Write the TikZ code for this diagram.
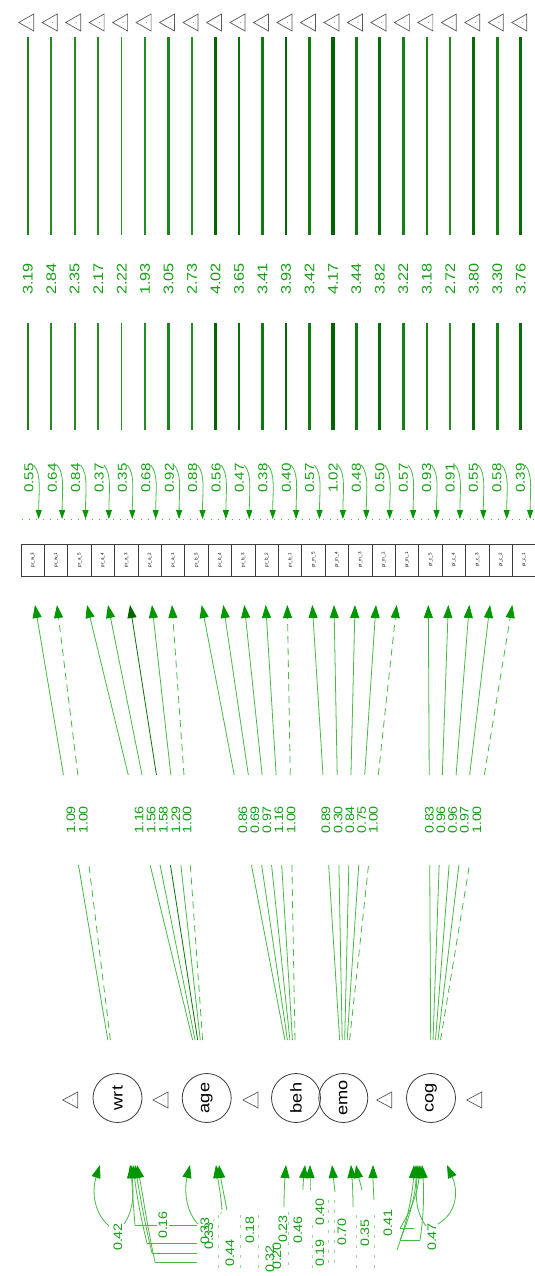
\documentclass[tikz,border=0pt]{standalone}
\usepackage{fontspec}
\usepackage{graphicx}
\setmainfont{Liberation Sans}
\usetikzlibrary{arrows.meta,calc}
\definecolor{dgreen}{RGB}{0,100,0}
\definecolor{lgreen}{RGB}{70,185,70}
\definecolor{agreen}{RGB}{0,150,0}
\definecolor{tgreen}{RGB}{20,160,20}
\definecolor{boxgray}{RGB}{60,60,60}
\newcommand\lab[2]{\fontsize{#1}{#1}\selectfont\scalebox{1.3}[1.12]{#2}}
\def\isdash{d}
\def\isdark{k}
\tikzset{
  lbl/.style={text=tgreen, rotate=90, inner sep=0pt},
  mbox/.style={draw=boxgray, line width=0.7pt, minimum width=23.4pt, minimum height=32pt, inner sep=0pt},
  latent/.style={circle, draw=boxgray, line width=0.8pt, minimum size=49pt, inner sep=0pt},
  tri/.style={draw=gray!70!black, line width=0.7pt},
  loadl/.style={draw=lgreen, line width=0.8pt},
  fixd/.style={dash pattern=on 7pt off 5pt},
  tipA/.style={-{Triangle[length=13pt,width=9pt,color=agreen]}},
  tipR/.style={-{Triangle[length=9pt,width=6pt,color=agreen]}},
  cv/.style={draw=lgreen, line width=0.8pt},
  faint/.style={draw=lgreen!55, line width=0.7pt, dash pattern=on 3pt off 7pt},
}
\begin{document}
\begin{tikzpicture}[x=1pt,y=-1pt]
\useasboundingbox[fill=white] (0,0) rectangle (535,1276);
% latent variables
\node[latent] (wrt) at (117.5,1098) {\rotatebox{90}{\lab{14}{wrt}}};
\node[latent] (age) at (206.7,1098) {\rotatebox{90}{\lab{14}{age}}};
\node[latent] (beh) at (296,1098) {\rotatebox{90}{\lab{14}{beh}}};
\node[latent] (emo) at (343.3,1098) {\rotatebox{90}{\lab{14}{emo}}};
\node[latent] (cog) at (431,1098) {\rotatebox{90}{\lab{14}{cog}}};
% latent mean triangles
\foreach \tx in {62.7,153,243,376.7,466.7}{
  \draw[tri] (\tx,1100) -- (\tx+15,1092) -- (\tx+15,1108) -- cycle;
  \fill[gray] (\tx+10,1100) circle (0.5pt);
}
% manifest variables
\foreach \k/\g/\n/\mn/\rv/\tp/\lt/\ld/\st in {
 0/w/3/3.19/0.55/35/wrt/1.09/s,
 1/w/1/2.84/0.64/57/wrt/1.00/d,
 2/a/5/2.35/0.84/87/age/1.16/s,
 3/a/4/2.17/0.37/108/age/1.56/s,
 4/a/3/2.22/0.35/130/age/1.58/k,
 5/a/2/1.93/0.68/152/age/1.29/s,
 6/a/1/3.05/0.92/172/age/1.00/d,
 7/b/5/2.73/0.88/201.7/beh/0.86/s,
 8/b/4/4.02/0.56/223.3/beh/0.69/s,
 9/b/3/3.65/0.47/244.3/beh/0.97/s,
 10/b/2/3.41/0.38/265.7/beh/1.16/s,
 11/b/1/3.93/0.40/287.3/beh/1.00/d,
 12/m/5/3.42/0.57/312.3/emo/0.89/s,
 13/m/4/4.17/1.02/334/emo/0.30/s,
 14/m/3/3.44/0.48/355/emo/0.84/s,
 15/m/2/3.82/0.50/376/emo/0.75/s,
 16/m/1/3.22/0.57/396.7/emo/1.00/d,
 17/c/5/3.18/0.93/428.3/cog/0.83/s,
 18/c/4/2.72/0.91/448.3/cog/0.96/s,
 19/c/3/3.80/0.55/469.3/cog/0.96/s,
 20/c/2/3.30/0.58/490/cog/0.97/s,
 21/c/1/3.76/0.39/512.3/cog/1.00/d}{
  \pgfmathsetmacro\bx{32.7+23.4*\k}
  \pgfmathsetmacro\mx{27.7+23.48*\k}
  \pgfmathsetmacro\lw{0.8*\mn-0.2}
  \pgfmathsetmacro\shade{int(min(100,max(50,100*(\mn-1.6)/2.4)))}
  \node[mbox] (v\k) at (\bx,560) {\rotatebox{90}{\fontsize{4.5}{5}\selectfont pr\_\g\_\n}};
  % mean triangle and path
  \coordinate (mt\k) at (\mx,22.5);
  \draw[tri] ($(mt\k)+(-9,0)$) -- ++(15,-8.5) -- ++(0,17) -- cycle;
  \fill[gray] ($(mt\k)+(1.5,0)$) circle (0.5pt);
  \coordinate (ma\k) at (\mx,37);
  \coordinate (mb\k) at (\mx,235);
  \coordinate (mc\k) at (\mx,323);
  \coordinate (md\k) at (\mx,430);
  \draw[line width=\lw pt, draw=dgreen!\shade!lgreen] (ma\k) -- (mb\k);
  \draw[line width=\lw pt, draw=dgreen!\shade!lgreen] (mc\k) -- (md\k);
  \node[lbl] (ml\k) at (\mx,279) {\lab{12.5}{\mn}};
  % residual variance
  \node[lbl] (rl\k) at (\bx-3.8,478) {\lab{11.6}{\rv}};
  \draw[draw=lgreen, line width=0.8pt, tipR] (\bx+1,465) .. controls (\bx+9,474) and (\bx+6,492) .. (\bx+6,519);
  % loading
  \coordinate (tip\k) at (\tp,605);
  \ifx\st\isdash
    \draw[loadl, fixd] ($(\lt)!0.1176!(tip\k)$) -- ($(\lt)!0.4726!(tip\k)$);
    \draw[loadl, fixd, tipA] ($(\lt)!0.6552!(tip\k)$) -- (tip\k);
  \else\ifx\st\isdark
    \draw[loadl, draw=dgreen!85!lgreen] ($(\lt)!0.1176!(tip\k)$) -- ($(\lt)!0.4726!(tip\k)$);
    \draw[loadl, draw=dgreen!85!lgreen, -{Triangle[length=13pt,width=9pt,color=dgreen]}] ($(\lt)!0.6552!(tip\k)$) -- (tip\k);
  \else
    \draw[loadl] ($(\lt)!0.1176!(tip\k)$) -- ($(\lt)!0.4726!(tip\k)$);
    \draw[loadl, tipA] ($(\lt)!0.6552!(tip\k)$) -- (tip\k);
  \fi\fi
  \node[lbl] (ll\k) at ($(\lt)!0.5639!(tip\k)$) {\lab{11}{\ld}};
}
\draw[draw=lgreen, line width=0.9pt, dash pattern=on 1pt off 6pt] (22,519) -- (535,519);
% ---- latent variances and covariances ----
% wrt variance
\node[lbl] (vw) at (118,1237) {\lab{11}{0.42}};
\draw[cv, tipA] (109,1226) .. controls (93,1212) and (92,1190) .. (100,1165);
\draw[cv, tipA] (124,1224) .. controls (134,1210) and (134,1190) .. (130,1165);
% cog variance
\node[lbl] (vc) at (432,1237) {\lab{11}{0.47}};
\draw[cv, tipA] (438,1224) .. controls (458,1212) and (458,1190) .. (447,1165);
\draw[cv, tipA] (426,1226) .. controls (414,1210) and (416,1190) .. (418,1165);
% age variance
\node[lbl] (va) at (205,1231) {\lab{11}{0.33}};
\draw[cv, tipA] (198,1224) .. controls (186,1212) and (184,1190) .. (190,1165);
\draw[cv, tipA] (222,1210) .. controls (221,1195) and (218,1180) .. (216,1165);
\draw[faint] (222,1212) -- (212,1222);
% beh variance
\node[lbl] (vb) at (298,1230) {\lab{11}{0.46}};
\draw[cv, tipA] (284,1207) .. controls (284,1190) and (285,1178) .. (286,1165);
\draw[cv, tipA] (303,1190) .. controls (303,1182) and (304,1175) .. (305,1165);
\draw[faint] (288,1212) -- (288,1270);
% emo variance
\node[lbl] (ve) at (342,1232) {\lab{11}{0.70}};
\draw[cv, tipA] (335,1192) .. controls (334,1182) and (333,1175) .. (332,1165);
\draw[cv, tipA] (353,1207) .. controls (353,1190) and (352,1178) .. (351,1165);
\draw[faint] (334,1200) -- (334,1270);
% wrt covariances
\node[lbl] (c1) at (163,1225) {\lab{11}{0.16}};
\node[lbl] (c2) at (209,1236) {\lab{11}{0.33}};
\node[lbl] (c3) at (230,1253) {\lab{11}{0.44}};
\node[lbl] (c4) at (270,1259) {\lab{11}{0.32}};
\draw[cv, tipA] (135,1225) .. controls (133,1200) and (132,1185) .. (131,1165);
\draw[cv] (135,1225) -- (157,1225);
\draw[cv] (169,1225) -- (197,1225);
\draw[cv, tipA] (147,1243) .. controls (140,1215) and (136,1190) .. (133,1165);
\draw[cv] (147,1243) -- (197,1243);
\draw[cv, tipA] (152,1253) .. controls (144,1220) and (139,1190) .. (135,1165);
\draw[cv] (152,1253) -- (197,1253);
\draw[cv, tipA] (155,1262) .. controls (147,1225) and (142,1190) .. (137,1165);
\draw[cv] (155,1262) -- (197,1262);
\draw[faint] (218,1215) -- (218,1270);
\draw[faint] (240,1215) -- (240,1270);
% age covariances
\node[lbl] (c5) at (250,1230) {\lab{11}{0.18}};
\node[lbl] (c6) at (283,1229) {\lab{11}{0.23}};
\node[lbl] (c7) at (277,1256) {\lab{11}{0.20}};
\node[lbl] (c8) at (320,1253) {\lab{11}{0.19}};
\draw[cv, tipA] (227,1210) .. controls (224,1195) and (221,1180) .. (219,1165);
\draw[faint] (258,1215) -- (258,1270);
% beh / emo covariances
\node[lbl] (c9) at (320,1212) {\lab{11}{0.40}};
\node[lbl] (c10) at (365,1233) {\lab{11}{0.35}};
\node[lbl] (c11) at (388,1223) {\lab{11}{0.41}};
\draw[cv, tipA] (310,1190) .. controls (310,1182) and (310,1175) .. (310,1165);
\draw[cv, tipA] (362,1190) .. controls (360,1182) and (358,1175) .. (356,1165);
\draw[cv, tipA] (374,1200) .. controls (373,1185) and (373,1175) .. (373,1165);
\draw[faint] (312,1225) -- (312,1270);
\draw[faint] (328,1200) -- (328,1270);
\draw[faint] (356,1215) -- (356,1270);
\draw[faint] (374,1215) -- (374,1270);
% cog covariances
\draw[cv, tipA] (397,1250) .. controls (408,1220) and (413,1190) .. (414,1165);
\draw[cv, tipA] (400,1240) .. controls (411,1215) and (416,1190) .. (416,1165);
\draw[cv, tipA] (400,1228) .. controls (412,1210) and (418,1190) .. (420,1165);
\draw[cv] (400,1228) -- (414,1228);
\draw[cv] (400,1240) -- (420,1240);
\draw[cv, tipA] (420,1240) .. controls (424,1215) and (424,1190) .. (422,1165);
\end{tikzpicture}
\end{document}
